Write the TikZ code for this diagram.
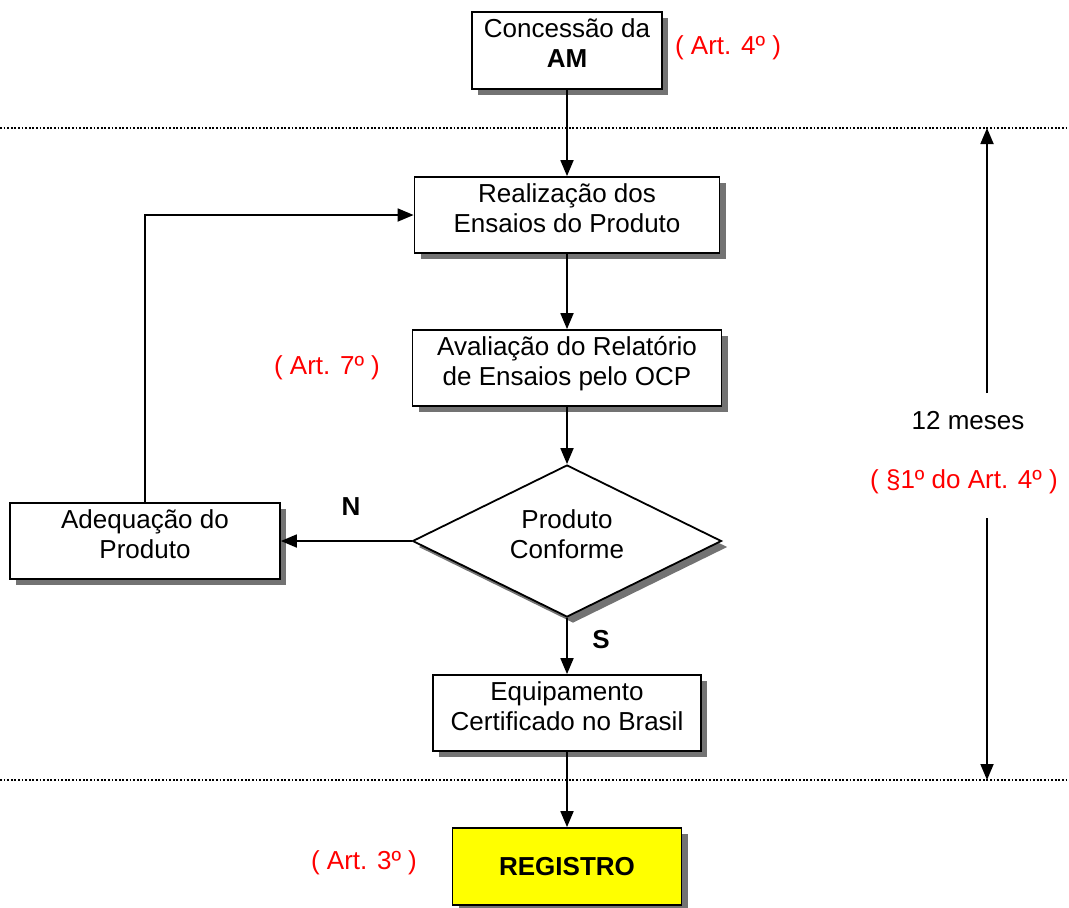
\documentclass[tikz,border=0pt]{standalone}
\usepackage{fontspec}
\setmainfont{Liberation Sans}
\usetikzlibrary{arrows.meta,shapes.geometric,shadows}
\definecolor{amarelo}{RGB}{255,255,0}
\begin{document}
\begin{tikzpicture}[x=0.5pt, y=-0.5pt,
  every node/.style={font=\fontsize{13}{15}\selectfont, align=center, inner sep=0pt},
  sombra/.style={drop shadow={shadow xshift=3pt, shadow yshift=-3pt, fill=black!55, opacity=1}},
  caixa/.style={draw, line width=0.9pt, fill=white, sombra, minimum height=38pt, text depth=7pt},
  losango/.style={draw, line width=0.9pt, fill=white, sombra, diamond, shape aspect=2, text depth=7pt},
  seta/.style={line width=0.9pt, -{Triangle[length=8pt, width=6.5pt]}},
  artigo/.style={text=red},
  limite/.style={line width=0.9pt, dash pattern=on 0.9pt off 0.9pt}]
  \useasboundingbox (0,0) rectangle (1069,907);
  % caixas do fluxo
  \node[caixa, minimum width=95pt, minimum height=38.5pt] (concessao) at (567,50.5) {Concessão da\\\textbf{AM}};
  \node[caixa, minimum width=152.5pt] (realizacao) at (567,215) {Realização dos\\Ensaios do Produto};
  \node[caixa, minimum width=154.5pt] (avaliacao) at (567,368) {Avaliação do Relatório\\de Ensaios pelo OCP};
  \node[losango, minimum width=154.5pt, minimum height=76pt] (conforme) at (567,541) {Produto\\Conforme};
  \node[caixa, minimum width=135pt] (adequacao) at (145,541) {Adequação do\\Produto};
  \node[caixa, minimum width=134pt] (equipamento) at (567,713) {Equipamento\\Certificado no Brasil};
  \node[caixa, fill=amarelo, text depth=-2pt, minimum width=114.5pt, minimum height=38.5pt] (registro) at (567,866.5) {\textbf{REGISTRO}};
  % artigos
  \node[artigo] (art4) at (728,48) {( Art. 4º )};
  \node[artigo] (art7) at (327,368) {( Art. 7º )};
  \node[artigo] (art3) at (364,863) {( Art. 3º )};
  \node[artigo] (par1) at (964,482) {( §1º do Art. 4º )};
  \node (meses) at (968,421) {12 meses};
  \node (rotN) at (351,507) {\textbf{N}};
  \node (rotS) at (601,640) {\textbf{S}};
  % ligacoes
  \draw[seta] (concessao) -- (realizacao);
  \draw[seta] (realizacao) -- (avaliacao);
  \draw[seta] (avaliacao) -- (conforme);
  \draw[seta] (conforme.south) -- (equipamento.north);
  \draw[seta] (equipamento) -- (registro);
  \draw[seta] (conforme.west) -- (adequacao.east);
  \draw[seta] (adequacao.north) |- (realizacao.west);
  % limites do prazo
  \draw[limite] (0,128) -- (1066,128);
  \draw[limite] (0,780) -- (1066,780);
  \coordinate (prazoA) at (987,128);
  \coordinate (prazoB) at (987,780);
  \coordinate (mesesA) at (987,393);
  \coordinate (mesesB) at (987,518);
  \draw[seta] (mesesA) -- (prazoA);
  \draw[seta] (mesesB) -- (prazoB);
\end{tikzpicture}
\end{document}
